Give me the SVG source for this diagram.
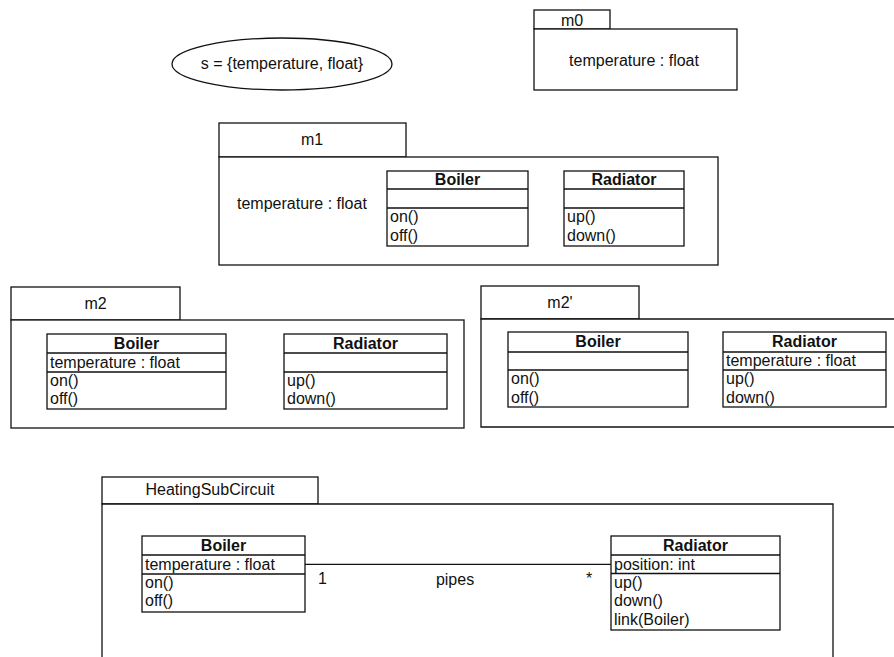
<svg xmlns="http://www.w3.org/2000/svg" width="894" height="657" viewBox="0 0 894 657">
<style>
.s{fill:#fff;stroke:#111;stroke-width:1.3}
.ln{fill:none;stroke:#111;stroke-width:1.3}
text{font-family:"Liberation Sans",Arial,sans-serif;font-size:16px;fill:#111}
.b{font-weight:bold}
.m{text-anchor:middle}
</style>
<rect width="894" height="657" fill="#fff"/>

<g id="state">
<ellipse class="s" cx="282" cy="64" rx="110" ry="26"/>
<text class="m" x="282" y="69">s = {temperature, float}</text>
</g>

<g id="m0">
<rect class="s" x="534" y="10" width="76" height="19"/>
<rect class="s" x="534" y="29" width="203" height="61"/>
<text class="m" x="572" y="26">m0</text>
<text class="m" x="634" y="66">temperature : float</text>
</g>

<g id="m1">
<rect class="s" x="219" y="123" width="187" height="34"/>
<rect class="s" x="219" y="157" width="499" height="108"/>
<text class="m" x="312" y="145">m1</text>
<text x="237" y="209">temperature : float</text>
<g id="m1-boiler">
<rect class="s" x="387" y="171" width="141" height="75"/>
<path class="ln" d="M387 189H528M387 208H528"/>
<text class="b m" x="457.5" y="185">Boiler</text>
<text x="390" y="222">on()</text>
<text x="390" y="240.5">off()</text>
</g>
<g id="m1-radiator">
<rect class="s" x="564" y="171" width="120" height="75"/>
<path class="ln" d="M564 189H684M564 208H684"/>
<text class="b m" x="624" y="185">Radiator</text>
<text x="567" y="222">up()</text>
<text x="567" y="240.5">down()</text>
</g>
</g>

<g id="m2">
<rect class="s" x="11" y="287" width="169" height="33"/>
<rect class="s" x="11" y="320" width="453" height="108"/>
<text class="m" x="95.5" y="309">m2</text>
<g id="m2-boiler">
<rect class="s" x="47" y="334" width="179" height="75"/>
<path class="ln" d="M47 353H226M47 372H226"/>
<text class="b m" x="136.5" y="348.5">Boiler</text>
<text x="50" y="367.5">temperature : float</text>
<text x="50" y="385.5">on()</text>
<text x="50" y="404">off()</text>
</g>
<g id="m2-radiator">
<rect class="s" x="284" y="334" width="163" height="75"/>
<path class="ln" d="M284 353H447M284 372H447"/>
<text class="b m" x="365.5" y="348.5">Radiator</text>
<text x="287" y="385.5">up()</text>
<text x="287" y="404">down()</text>
</g>
</g>

<g id="m2p">
<rect class="s" x="481" y="286" width="158" height="33"/>
<path class="s" d="M900 319H481V427H900"/>
<text class="m" x="560" y="308">m2'</text>
<g id="m2p-boiler">
<rect class="s" x="508" y="332" width="180" height="75"/>
<path class="ln" d="M508 352H688M508 370H688"/>
<text class="b m" x="598" y="347">Boiler</text>
<text x="511" y="384">on()</text>
<text x="511" y="402.5">off()</text>
</g>
<g id="m2p-radiator">
<rect class="s" x="723" y="332" width="163" height="75"/>
<path class="ln" d="M723 352H886M723 370H886"/>
<text class="b m" x="804.5" y="347">Radiator</text>
<text x="726" y="366">temperature : float</text>
<text x="726" y="384">up()</text>
<text x="726" y="402.5">down()</text>
</g>
</g>

<g id="hsc">
<rect class="s" x="102" y="477" width="216" height="27"/>
<path class="s" d="M102 670V504H833V670"/>
<text class="m" x="210" y="495">HeatingSubCircuit</text>
</g>

<g id="connectors">
<line class="ln" x1="305" y1="564.3" x2="611" y2="564.3"/>
<text x="318" y="584">1</text>
<text class="m" x="455" y="585">pipes</text>
<text x="586" y="584">*</text>
</g>

<g id="hsc-boiler">
<rect class="s" x="142" y="536" width="163" height="76"/>
<path class="ln" d="M142 555H305M142 574H305"/>
<text class="b m" x="223.5" y="550.5">Boiler</text>
<text x="145" y="569.5">temperature : float</text>
<text x="145" y="587.5">on()</text>
<text x="145" y="606">off()</text>
</g>
<g id="hsc-radiator">
<rect class="s" x="611" y="536" width="169" height="94"/>
<path class="ln" d="M611 555H780M611 573.5H780"/>
<text class="b m" x="695.5" y="550.5">Radiator</text>
<text x="614" y="569.5">position: int</text>
<text x="614" y="587.5">up()</text>
<text x="614" y="606">down()</text>
<text x="614" y="624.5">link(Boiler)</text>
</g>
</svg>
